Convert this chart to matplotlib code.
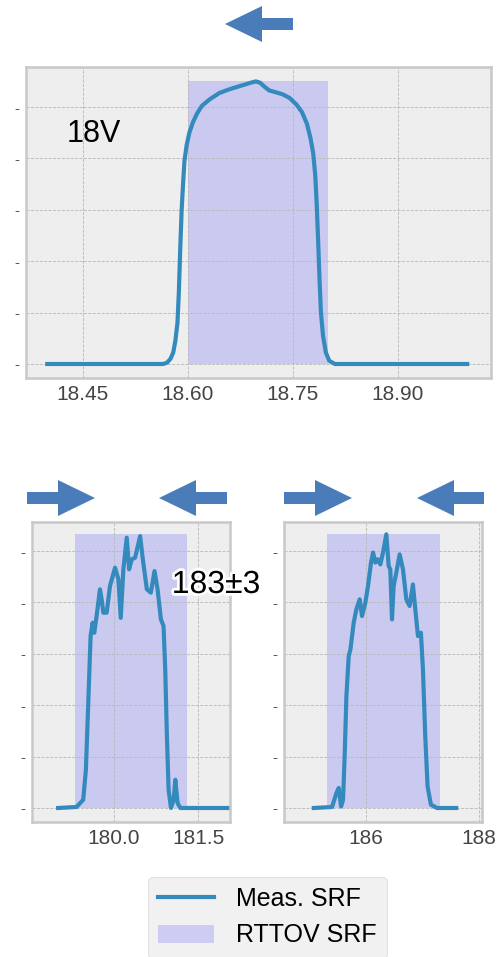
import matplotlib
matplotlib.use('Agg')
import matplotlib.pyplot as plt
import matplotlib.patheffects as pe
from matplotlib.patches import FancyArrow

# 18V channel
f18 = [18.399, 18.5645, 18.570, 18.575, 18.579, 18.582, 18.585, 18.587, 18.589, 18.591,
       18.593, 18.595, 18.598, 18.602, 18.607, 18.613, 18.620, 18.631, 18.645, 18.660,
       18.678, 18.690, 18.697, 18.703, 18.709, 18.716, 18.725, 18.735, 18.745, 18.755,
       18.763, 18.770, 18.775, 18.779, 18.782, 18.784, 18.786, 18.788, 18.790, 18.793,
       18.797, 18.802, 18.810, 18.999]
s18 = [0.0, 0.0, 0.005, 0.02, 0.045, 0.09, 0.16, 0.28, 0.45, 0.60,
       0.70, 0.79, 0.85, 0.90, 0.94, 0.975, 1.005, 1.03, 1.055, 1.07,
       1.085, 1.095, 1.100, 1.095, 1.080, 1.065, 1.058, 1.050, 1.036, 1.010,
       0.980, 0.935, 0.88, 0.82, 0.73, 0.62, 0.48, 0.33, 0.20, 0.11,
       0.045, 0.012, 0.0, 0.0]
box18 = [18.60, 18.80]
top18 = 1.10

# 183-3 sideband
f_lo = [179.002, 179.331, 179.45, 179.498, 179.54, 179.582, 179.618, 179.647, 179.689, 179.749,
        179.779, 179.809, 179.869, 179.928, 180.018, 180.078, 180.12, 180.167, 180.227, 180.269,
        180.317, 180.376, 180.466, 180.514, 180.586, 180.657, 180.723, 180.777, 180.837, 180.884,
        180.914, 180.944, 180.974, 181.016, 181.064, 181.094, 181.135, 181.183, 182.038]
s_lo = [0.0, 0.004, 0.032, 0.149, 0.409, 0.669, 0.721, 0.682, 0.747, 0.851,
        0.812, 0.760, 0.760, 0.864, 0.935, 0.890, 0.740, 0.929, 1.052, 0.929,
        0.968, 0.974, 1.058, 0.968, 0.851, 0.838, 0.922, 0.851, 0.734, 0.708,
        0.539, 0.279, 0.071, 0.0, 0.032, 0.110, 0.019, 0.0, 0.0]
box_lo = [179.31, 181.31]

# 183+3 sideband
f_hi = [185.077, 185.4, 185.476, 185.518, 185.559, 185.594, 185.624, 185.653, 185.694, 185.724,
        185.782, 185.829, 185.888, 185.929, 185.988, 186.035, 186.088, 186.124, 186.165, 186.206,
        186.253, 186.3, 186.359, 186.4, 186.429, 186.459, 186.488, 186.535, 186.594, 186.653,
        186.712, 186.771, 186.829, 186.871, 186.918, 186.97, 187.006, 187.047, 187.088, 187.147,
        187.253, 187.594]
s_hi = [0.0, 0.004, 0.058, 0.078, 0.006, 0.032, 0.214, 0.435, 0.591, 0.617,
        0.721, 0.773, 0.812, 0.747, 0.799, 0.864, 0.955, 0.994, 0.955, 0.968,
        0.948, 0.994, 1.065, 0.942, 0.929, 0.734, 0.864, 0.916, 0.987, 0.929,
        0.812, 0.786, 0.870, 0.773, 0.669, 0.682, 0.539, 0.279, 0.084, 0.013,
        0.0, 0.0]
box_hi = [185.31, 187.31]
top183 = 1.066

yticks = [0, 0.2, 0.4, 0.6, 0.8, 1.0]

plt.style.use('bmh')
plt.rcParams['font.family'] = ['Liberation Sans', 'DejaVu Sans']

W, H = 497, 957
fig = plt.figure(figsize=(W / 100, H / 100), dpi=100)


def px_axes(l, r, t, b):
    return fig.add_axes([l / W, 1 - b / H, (r - l) / W, (b - t) / H])


def style(ax, xlim, ylim, xt, fmt):
    ax.set_xlim(*xlim)
    ax.set_ylim(*ylim)
    ax.set_xticks(xt)
    ax.set_xticklabels([fmt % v for v in xt])
    ax.set_yticks(yticks)
    ax.set_yticklabels(['-'] * len(yticks))
    ax.tick_params(axis='x', length=0, labelsize=15, labelcolor='#444444', pad=5)
    ax.tick_params(axis='y', length=0, labelsize=11, labelcolor='#555555', pad=5)
    for sp in ax.spines.values():
        sp.set_color('#c8c8c8')
        sp.set_linewidth(1.8)
    ax.grid(True, color='#b8b8b8', linestyle='--', linewidth=0.6)


ax1 = px_axes(26, 491, 67, 378)
ax1.fill_between(box18, 0, top18, color='blue', alpha=0.15, lw=0, label='RTTOV SRF')
ax1.plot(f18, s18, color='#348ABD', lw=3, label='Meas. SRF')
style(ax1, (18.3686, 19.033), (-0.0545, 1.156), [18.45, 18.60, 18.75, 18.90], '%.2f')

ax2 = px_axes(32, 230, 522, 822)
ax2.fill_between(box_lo, 0, top183, color='blue', alpha=0.15, lw=0)
ax2.plot(f_lo, s_lo, color='#348ABD', lw=3)
style(ax2, (178.536, 182.07), (-0.0545, 1.113), [180.0, 181.5], '%.1f')

ax3 = px_axes(284, 482, 522, 822)
ax3.fill_between(box_hi, 0, top183, color='blue', alpha=0.15, lw=0)
ax3.plot(f_hi, s_hi, color='#348ABD', lw=3)
style(ax3, (184.55, 188.05), (-0.0545, 1.113), [186, 188], '%d')

# overlay in pixel coordinates for arrows and labels
ov = fig.add_axes([0, 0, 1, 1])
ov.set_xlim(0, W)
ov.set_ylim(H, 0)
ov.axis('off')
ov.patch.set_alpha(0)

arrow_col = '#4a7cb9'
for x0, x1, y in [(293, 225, 24), (27, 95, 498), (227, 159, 498), (284, 352, 498), (484, 417, 498)]:
    ov.add_patch(FancyArrow(x0, y, x1 - x0, 0, width=12, head_width=36, head_length=37,
                            length_includes_head=True, color=arrow_col, lw=0))

ov.text(94, 134, '18V', fontsize=22, ha='center', va='center', color='black')
ov.text(216, 585, '183\u00b13', fontsize=23, ha='center', va='center', color='black',
        path_effects=[pe.withStroke(linewidth=4, foreground='white')])

h, l = ax1.get_legend_handles_labels()
fig.legend(h[::-1], l[::-1], loc='upper left', bbox_to_anchor=(148 / W, 1 - 877 / H),
           borderaxespad=0, fontsize=18, handlelength=2.24, handletextpad=0.9,
           frameon=True, fancybox=True, edgecolor='#cccccc', facecolor='#eeeeee', framealpha=0.8)

fig.savefig('out.png', dpi=100)
